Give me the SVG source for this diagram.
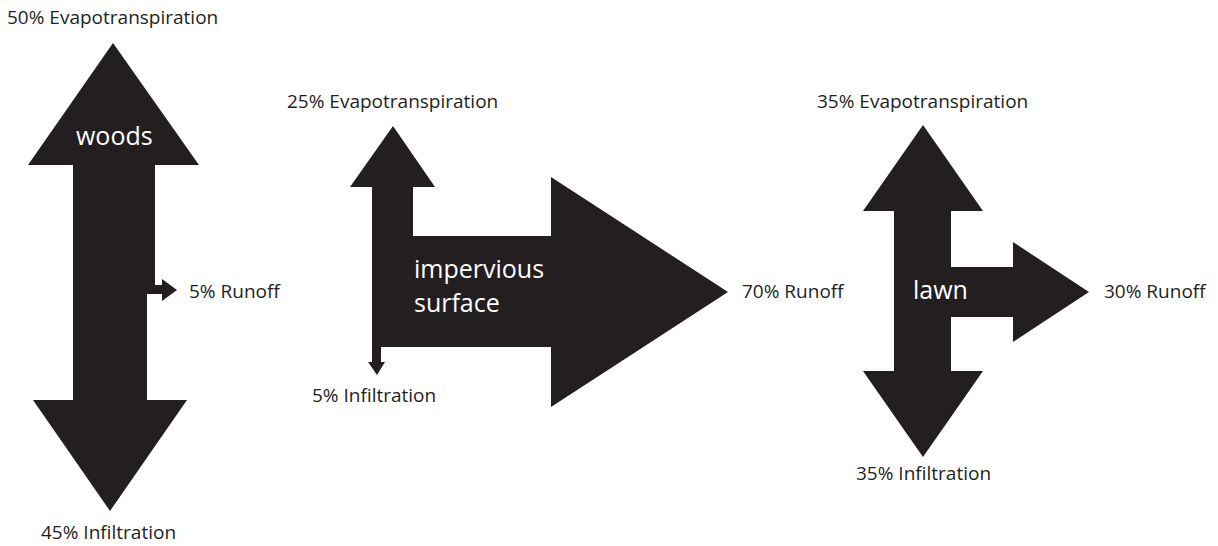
<svg xmlns="http://www.w3.org/2000/svg" width="1218" height="546" viewBox="0 0 1218 546">
<style>
.shape{fill:#231f20}
.lbl{font-family:"Open Sans","Noto Sans",sans-serif;font-size:19px;fill:#231f20}
.in{font-family:"Open Sans","Noto Sans",sans-serif;font-size:25px;fill:#ffffff}
</style>
<rect width="1218" height="546" fill="#ffffff"/>
<g id="woods">
<path class="shape" d="M113,43 L199,165 L155,165 L155,285 L162,285 L162,279 L177,290 L162,301 L162,294 L147,294 L147,400 L187,400 L110,511 L33,400 L73,400 L73,165 L28,165 Z"/>
<text class="in" x="76" y="145">woods</text>
<text class="lbl" x="7" y="24">50% Evapotranspiration</text>
<text class="lbl" x="189" y="298">5% Runoff</text>
<text class="lbl" x="41" y="539">45% Infiltration</text>
</g>
<g id="impervious">
<path class="shape" d="M393,126 L435,187 L413,187 L413,236 L551,236 L551,177 L728,292 L551,407 L551,347 L381,347 L381,362 L385,362 L377,375 L368,362 L372,362 L372,187 L350,187 Z"/>
<text class="in" x="414" y="278">impervious</text>
<text class="in" x="414" y="312">surface</text>
<text class="lbl" x="287" y="108">25% Evapotranspiration</text>
<text class="lbl" x="742" y="298">70% Runoff</text>
<text class="lbl" x="312" y="402">5% Infiltration</text>
</g>
<g id="lawn">
<path class="shape" d="M923,125 L983,211 L951,211 L951,267 L1013,267 L1013,242 L1089,292 L1013,342 L1013,317 L951,317 L951,371 L983,371 L923,457 L863,371 L894,371 L894,211 L863,211 Z"/>
<text class="in" x="913" y="299">lawn</text>
<text class="lbl" x="817" y="108">35% Evapotranspiration</text>
<text class="lbl" x="1104" y="298">30% Runoff</text>
<text class="lbl" x="856" y="480">35% Infiltration</text>
</g>
<g id="connectors"/>
</svg>
